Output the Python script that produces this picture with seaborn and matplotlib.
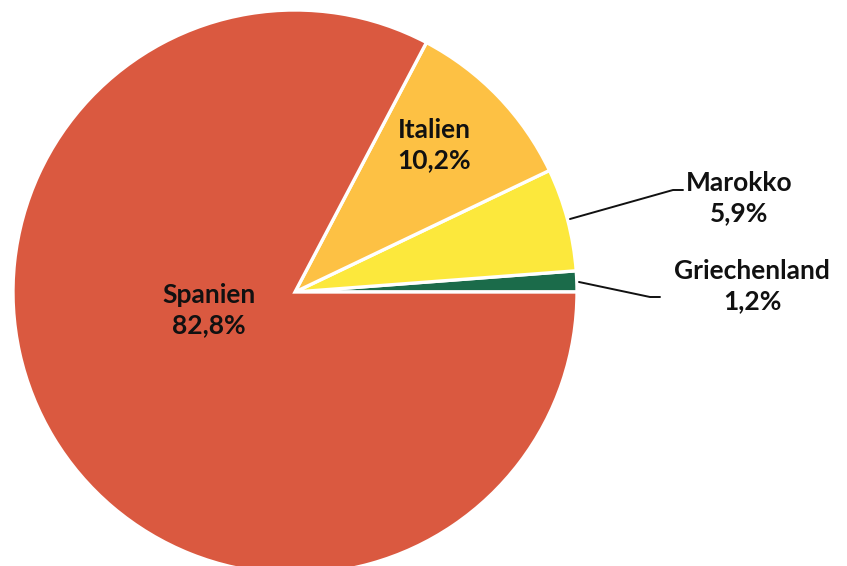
import matplotlib
matplotlib.use("Agg")
import matplotlib.pyplot as plt
import seaborn as sns

countries = ["Griechenland", "Marokko", "Italien", "Spanien"]
shares = [1.2, 5.9, 10.2, 82.8]
share_labels = ["1,2%", "5,9%", "10,2%", "82,8%"]
colors = ["#1B6B4A", "#FCE83C", "#FDC144", "#DA5940"]

sns.set_theme(style="white")
plt.rcParams['font.family'] = ['Lato', 'DejaVu Sans']

fig = plt.figure(figsize=(8.47, 5.66), dpi=100)
ax = fig.add_axes([0, 0, 1, 1])

H = 566
cx, cy, r = 295, H - 292, 282
ax.pie(shares, colors=colors, startangle=0, counterclock=True,
       center=(cx, cy), radius=r, frame=True,
       wedgeprops=dict(edgecolor='white', linewidth=2.4))
ax.set_xlim(0, 847)
ax.set_ylim(0, 566)
ax.set_aspect('equal')
ax.axis('off')

fs = 19
label_pos = {
    "Spanien": (209, 310),
    "Italien": (434, 145),
    "Marokko": (739, 198),
    "Griechenland": (752, 286),
}
for name, lab in zip(countries, share_labels):
    x, y = label_pos[name]
    ax.text(x, H - y, f"{name}\n{lab}", ha='center', va='center',
            fontsize=fs, fontweight='bold', color='#111111', linespacing=1.3)

# leader lines
ax.plot([570, 673, 683], [H - 219, H - 190, H - 190], color='#111111', lw=1.4)
ax.plot([579, 650, 660], [H - 282, H - 297, H - 297], color='#111111', lw=1.4)

fig.savefig("out.png", dpi=100)
